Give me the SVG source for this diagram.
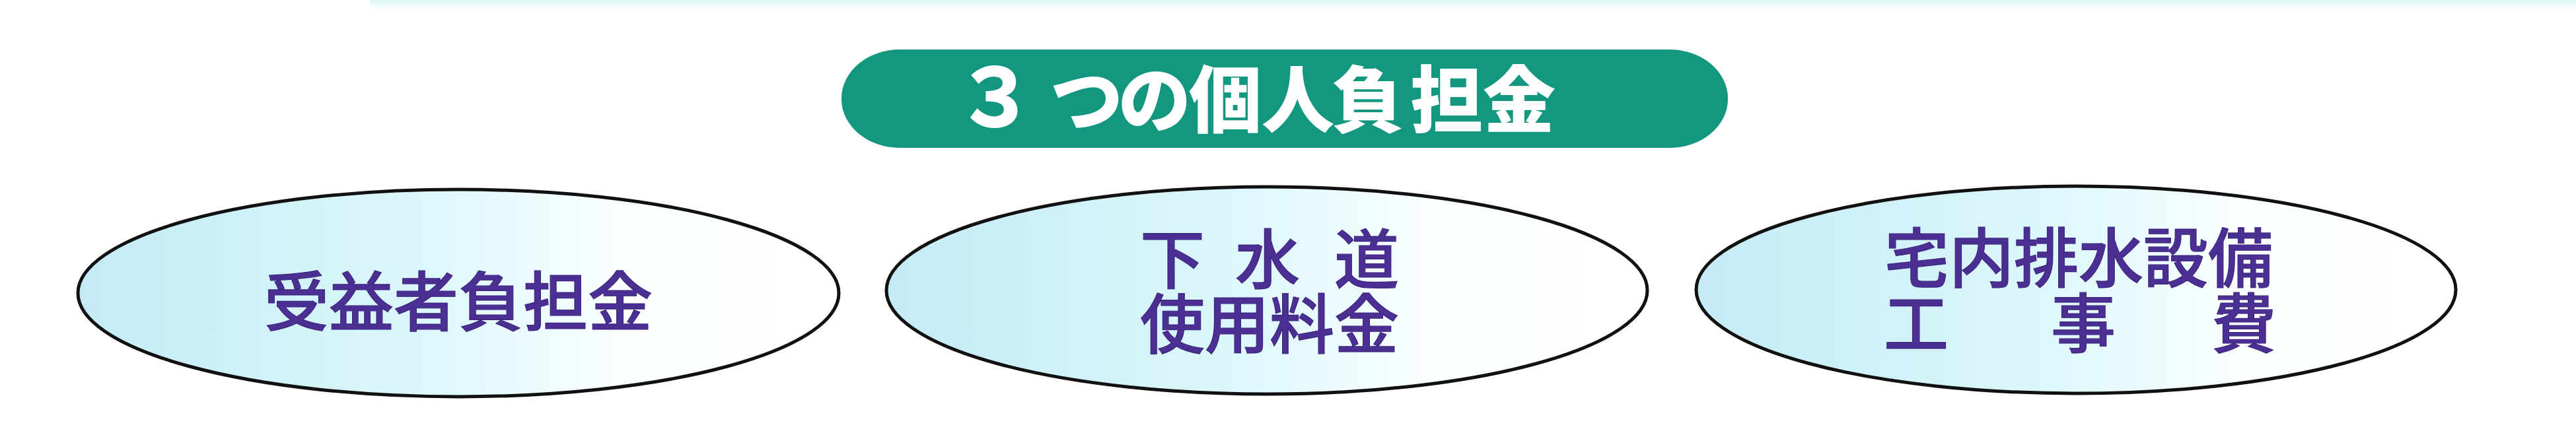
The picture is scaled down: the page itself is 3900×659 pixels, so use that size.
<svg xmlns="http://www.w3.org/2000/svg" width="3900" height="659" viewBox="0 0 3900 659">
  <defs>
    <linearGradient id="ellFill" x1="0" y1="0" x2="1" y2="0">
      <stop offset="0" stop-color="#c4ebf5"/>
      <stop offset="0.45" stop-color="#dbf7fb"/>
      <stop offset="0.72" stop-color="#fbffff"/>
      <stop offset="1" stop-color="#ffffff"/>
    </linearGradient>
    <linearGradient id="topBand" x1="0" y1="0" x2="0" y2="1">
      <stop offset="0" stop-color="#dcf4f4"/>
      <stop offset="1" stop-color="#ffffff"/>
    </linearGradient>
  </defs>
  <style>
    .ell { fill: url(#ellFill); stroke: #111111; stroke-width: 5; }
    .lbl { font-family: "Noto Sans CJK JP", "Noto Sans CJK SC", sans-serif; font-size: 98px; font-weight: 500; fill: #4b2f92; stroke: #3d2580; stroke-width: 1.2; }
    .title { font-family: "Noto Sans CJK JP", "Noto Sans CJK SC", sans-serif; font-size: 110px; font-weight: 900; fill: #ffffff; }
  </style>
  <rect x="0" y="0" width="3900" height="659" fill="#ffffff"/>
  <rect x="560" y="0" width="3340" height="14" fill="url(#topBand)"/>

  <g id="title">
    <rect x="1274" y="75" width="1342" height="149" rx="88" ry="74" fill="#13977f"/>
    <text class="title" y="192"><tspan x="1446" font-size="122">３</tspan><tspan x="1590 1693 1800 1910 2016 2135 2245">つの個人負担金</tspan></text>
  </g>

  <g id="connectors"></g>

  <g id="node-jueki">
    <ellipse class="ell" cx="694" cy="444" rx="576" ry="157"/>
    <text class="lbl" x="400" y="493">受益者負担金</text>
  </g>

  <g id="node-gesuido">
    <ellipse class="ell" cx="1918" cy="440" rx="576" ry="157"/>
    <text class="lbl"><tspan x="1726 1823 1870 1967 2020" y="429">下 水 道</tspan><tspan x="1726" y="527">使用料金</tspan></text>
  </g>

  <g id="node-takunai">
    <ellipse class="ell" cx="3143" cy="439" rx="575" ry="157"/>
    <text class="lbl"><tspan x="2853" y="427">宅内排水設備</tspan><tspan x="2852 2950 3105 3203 3348" y="526">工　事　費</tspan></text>
  </g>
</svg>
